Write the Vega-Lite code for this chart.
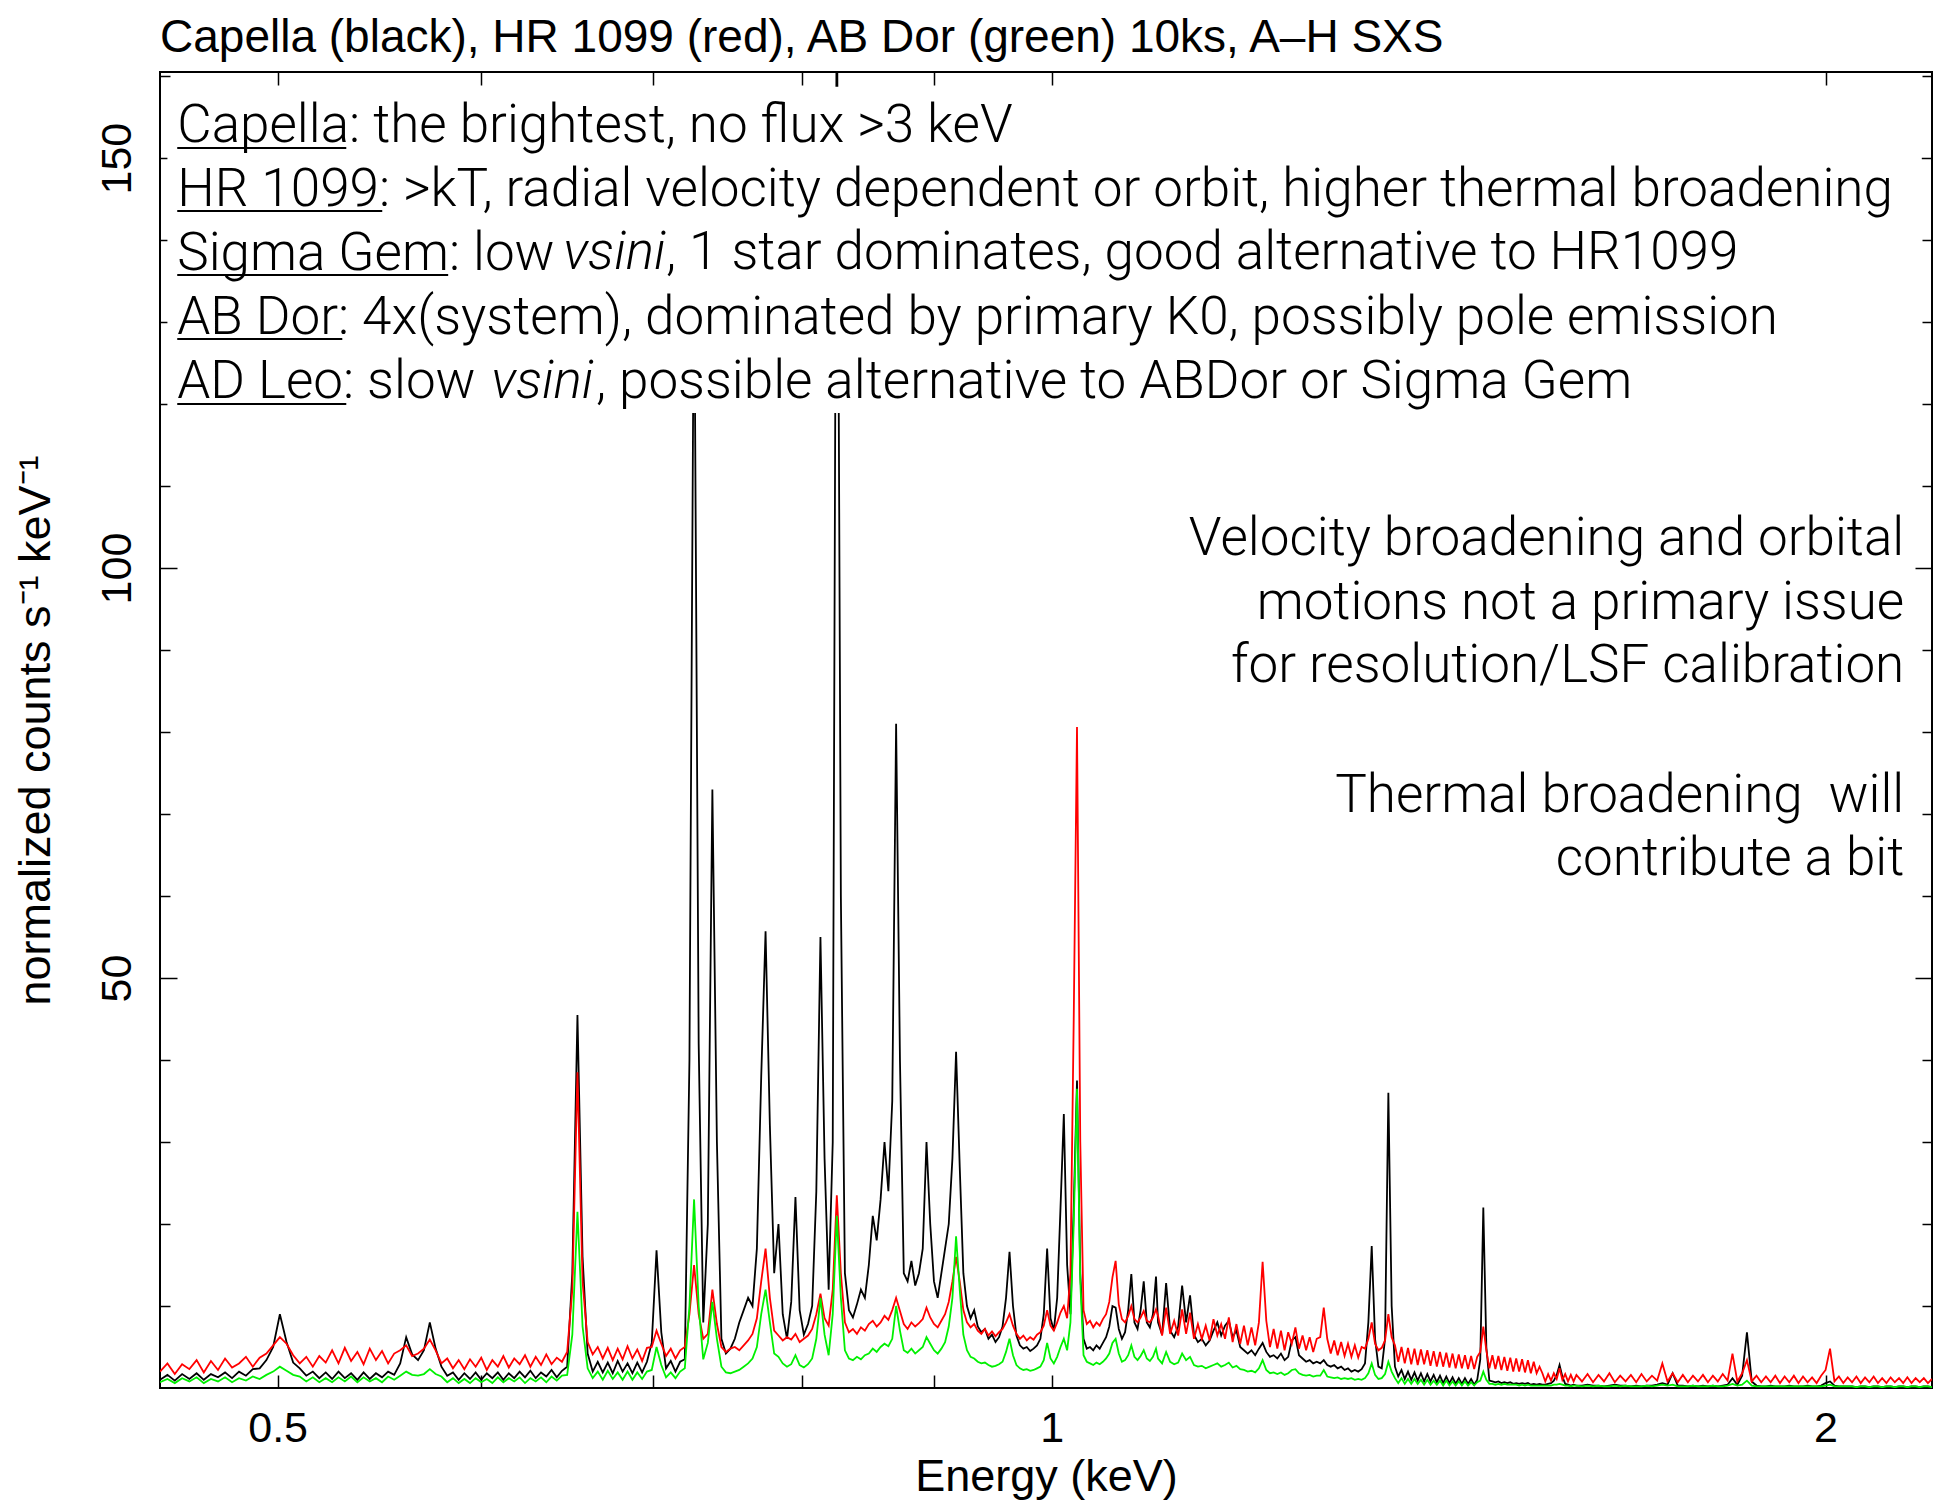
{
"$schema": "https://vega.github.io/schema/vega-lite/v6.json",
"width": 1772,
"height": 1316,
"autosize": {"type": "none"},
"padding": {"left": 160, "top": 72, "right": 3, "bottom": 112},
"background": "white",
"config": {
  "view": {"stroke": "#000", "strokeWidth": 2},
  "axis": {"domain": false, "grid": false, "zindex": 1, "tickColor": "#000", "tickWidth": 1.5, "labelColor": "#000", "labelFont": "Liberation Sans", "labelFontSize": 43, "titleColor": "#000", "titleFont": "Liberation Sans", "titleFontSize": 45, "titleFontWeight": "normal", "labelOverlap": false, "labelFlush": false}
},
"title": {"text": "Capella (black), HR 1099 (red), AB Dor (green) 10ks, A–H SXS", "anchor": "start", "frame": "group", "font": "Liberation Sans", "fontSize": 46, "fontWeight": "normal", "color": "#000", "baseline": "alphabetic", "offset": -27},
"data": {"values": [
{"keV":0.450,"cap":1.0,"hr":2.0,"ab":0.7},{"keV":0.453,"cap":1.6,"hr":3.0,"ab":1.1},{"keV":0.456,"cap":0.9,"hr":1.7,"ab":0.6},{"keV":0.459,"cap":1.7,"hr":2.9,"ab":1.2},
{"keV":0.462,"cap":1.1,"hr":2.3,"ab":0.8},{"keV":0.465,"cap":1.8,"hr":3.4,"ab":1.3},{"keV":0.468,"cap":1.0,"hr":1.9,"ab":0.6},{"keV":0.471,"cap":1.7,"hr":3.3,"ab":1.1},
{"keV":0.474,"cap":1.3,"hr":2.2,"ab":0.8},{"keV":0.477,"cap":1.9,"hr":3.6,"ab":1.3},{"keV":0.480,"cap":1.2,"hr":2.5,"ab":0.7},{"keV":0.483,"cap":2.0,"hr":3.0,"ab":1.2},
{"keV":0.486,"cap":1.5,"hr":3.8,"ab":0.9},{"keV":0.489,"cap":2.3,"hr":2.6,"ab":1.4},{"keV":0.492,"cap":2.4,"hr":3.7,"ab":1.1},{"keV":0.495,"cap":3.4,"hr":4.2,"ab":1.6},
{"keV":0.498,"cap":5.0,"hr":5.2,"ab":2.0},{"keV":0.501,"cap":9.0,"hr":6.2,"ab":2.6},{"keV":0.504,"cap":5.6,"hr":5.4,"ab":2.1},{"keV":0.507,"cap":3.1,"hr":4.0,"ab":1.6},
{"keV":0.510,"cap":2.4,"hr":3.0,"ab":1.4},{"keV":0.513,"cap":1.5,"hr":3.8,"ab":0.8},{"keV":0.516,"cap":2.0,"hr":2.6,"ab":1.3},{"keV":0.519,"cap":1.2,"hr":3.9,"ab":0.7},
{"keV":0.522,"cap":1.9,"hr":3.1,"ab":1.2},{"keV":0.525,"cap":1.1,"hr":4.6,"ab":0.7},{"keV":0.528,"cap":2.0,"hr":3.0,"ab":1.3},{"keV":0.531,"cap":1.2,"hr":4.9,"ab":0.8},
{"keV":0.534,"cap":1.8,"hr":3.3,"ab":1.4},{"keV":0.537,"cap":1.0,"hr":4.4,"ab":0.7},{"keV":0.540,"cap":1.9,"hr":2.9,"ab":1.3},{"keV":0.543,"cap":1.1,"hr":4.8,"ab":0.8},
{"keV":0.546,"cap":1.8,"hr":3.4,"ab":1.2},{"keV":0.549,"cap":1.3,"hr":4.5,"ab":0.7},{"keV":0.552,"cap":2.0,"hr":3.0,"ab":1.4},{"keV":0.555,"cap":1.6,"hr":4.2,"ab":1.0},
{"keV":0.558,"cap":3.0,"hr":4.6,"ab":1.5},{"keV":0.561,"cap":6.2,"hr":5.2,"ab":2.0},{"keV":0.564,"cap":4.1,"hr":3.9,"ab":1.6},{"keV":0.567,"cap":3.4,"hr":4.2,"ab":1.5},
{"keV":0.570,"cap":4.6,"hr":4.8,"ab":1.7},{"keV":0.573,"cap":8.0,"hr":5.9,"ab":2.3},{"keV":0.576,"cap":4.8,"hr":4.6,"ab":1.7},{"keV":0.579,"cap":2.6,"hr":3.0,"ab":1.4},
{"keV":0.582,"cap":1.5,"hr":3.6,"ab":0.7},{"keV":0.585,"cap":1.9,"hr":2.4,"ab":1.2},{"keV":0.588,"cap":1.0,"hr":3.4,"ab":0.6},{"keV":0.591,"cap":1.8,"hr":2.3,"ab":1.1},
{"keV":0.594,"cap":1.1,"hr":3.5,"ab":0.6},{"keV":0.597,"cap":1.9,"hr":2.6,"ab":1.2},{"keV":0.600,"cap":1.0,"hr":3.7,"ab":0.7},{"keV":0.603,"cap":1.8,"hr":2.2,"ab":1.1},
{"keV":0.606,"cap":1.2,"hr":3.4,"ab":0.6},{"keV":0.609,"cap":1.9,"hr":2.6,"ab":1.3},{"keV":0.612,"cap":1.0,"hr":3.9,"ab":0.7},{"keV":0.615,"cap":1.8,"hr":2.5,"ab":1.2},
{"keV":0.618,"cap":1.2,"hr":3.6,"ab":0.8},{"keV":0.621,"cap":2.0,"hr":2.9,"ab":1.3},{"keV":0.624,"cap":1.3,"hr":4.0,"ab":0.6},{"keV":0.627,"cap":2.1,"hr":2.6,"ab":1.2},
{"keV":0.630,"cap":1.2,"hr":3.8,"ab":0.8},{"keV":0.633,"cap":1.9,"hr":2.8,"ab":1.3},{"keV":0.636,"cap":1.4,"hr":4.1,"ab":0.7},{"keV":0.639,"cap":2.2,"hr":2.9,"ab":1.4},
{"keV":0.642,"cap":1.3,"hr":3.7,"ab":0.9},{"keV":0.645,"cap":2.1,"hr":3.2,"ab":1.5},{"keV":0.648,"cap":2.6,"hr":4.4,"ab":1.6},{"keV":0.651,"cap":14,"hr":12,"ab":6.5},
{"keV":0.654,"cap":45.5,"hr":38.5,"ab":21.5},{"keV":0.657,"cap":16,"hr":13,"ab":7.5},{"keV":0.660,"cap":4.2,"hr":5.6,"ab":2.4},{"keV":0.663,"cap":2.0,"hr":4.1,"ab":1.2},
{"keV":0.666,"cap":3.2,"hr":5.0,"ab":2.0},{"keV":0.669,"cap":1.9,"hr":3.6,"ab":1.0},{"keV":0.672,"cap":3.1,"hr":4.9,"ab":2.1},{"keV":0.675,"cap":1.8,"hr":3.4,"ab":1.1},
{"keV":0.678,"cap":3.3,"hr":4.8,"ab":1.9},{"keV":0.681,"cap":2.0,"hr":3.5,"ab":1.0},{"keV":0.684,"cap":3.0,"hr":5.1,"ab":2.0},{"keV":0.687,"cap":1.8,"hr":3.6,"ab":1.0},
{"keV":0.690,"cap":3.1,"hr":4.7,"ab":1.9},{"keV":0.693,"cap":1.9,"hr":3.3,"ab":1.1},{"keV":0.696,"cap":3.2,"hr":4.9,"ab":2.0},{"keV":0.699,"cap":5.5,"hr":5.0,"ab":2.2},
{"keV":0.702,"cap":16.8,"hr":7.0,"ab":5.0},{"keV":0.705,"cap":6.8,"hr":5.4,"ab":2.8},{"keV":0.708,"cap":2.4,"hr":3.9,"ab":1.3},{"keV":0.711,"cap":3.3,"hr":4.8,"ab":1.9},
{"keV":0.714,"cap":2.0,"hr":3.6,"ab":1.2},{"keV":0.717,"cap":3.2,"hr":4.6,"ab":2.0},{"keV":0.720,"cap":3.5,"hr":5.0,"ab":2.4},{"keV":0.723,"cap":40,"hr":9,"ab":10},
{"keV":0.726,"cap":140,"hr":15,"ab":23},{"keV":0.729,"cap":42,"hr":9,"ab":10},{"keV":0.732,"cap":8,"hr":6.0,"ab":3.5},{"keV":0.735,"cap":20,"hr":6.6,"ab":5.5},
{"keV":0.738,"cap":73,"hr":12,"ab":10.5},{"keV":0.741,"cap":30,"hr":7.8,"ab":6.0},{"keV":0.744,"cap":6.0,"hr":5.0,"ab":2.6},{"keV":0.747,"cap":4.2,"hr":4.4,"ab":1.9},
{"keV":0.750,"cap":4.8,"hr":4.8,"ab":1.8},{"keV":0.753,"cap":6.0,"hr":5.0,"ab":2.0},{"keV":0.756,"cap":8.0,"hr":4.6,"ab":2.2},{"keV":0.759,"cap":9.5,"hr":5.2,"ab":2.6},
{"keV":0.762,"cap":11.0,"hr":5.8,"ab":3.0},{"keV":0.765,"cap":10.0,"hr":6.6,"ab":3.6},{"keV":0.768,"cap":17,"hr":8.5,"ab":5.0},{"keV":0.771,"cap":38,"hr":13,"ab":9},
{"keV":0.774,"cap":55.7,"hr":17,"ab":12},{"keV":0.777,"cap":32,"hr":11,"ab":8},{"keV":0.780,"cap":14,"hr":7.0,"ab":4.2},{"keV":0.783,"cap":20,"hr":6.4,"ab":3.8},
{"keV":0.786,"cap":9.0,"hr":5.8,"ab":3.0},{"keV":0.789,"cap":6.0,"hr":6.2,"ab":2.6},{"keV":0.792,"cap":10.5,"hr":5.9,"ab":2.9},{"keV":0.795,"cap":23.3,"hr":6.6,"ab":4.0},
{"keV":0.798,"cap":9.5,"hr":5.6,"ab":2.8},{"keV":0.801,"cap":6.5,"hr":6.0,"ab":2.5},{"keV":0.804,"cap":7.8,"hr":6.4,"ab":2.9},{"keV":0.807,"cap":10,"hr":7.2,"ab":3.6},
{"keV":0.810,"cap":24,"hr":9,"ab":6.0},{"keV":0.813,"cap":55,"hr":11.5,"ab":11},{"keV":0.816,"cap":28,"hr":8.5,"ab":6.5},{"keV":0.819,"cap":12,"hr":7.6,"ab":4.0},
{"keV":0.822,"cap":30,"hr":12,"ab":9},{"keV":0.825,"cap":175,"hr":23.5,"ab":21},{"keV":0.828,"cap":60,"hr":14,"ab":11},{"keV":0.831,"cap":14,"hr":8.0,"ab":4.6},
{"keV":0.834,"cap":9.5,"hr":6.8,"ab":3.6},{"keV":0.837,"cap":8.6,"hr":7.2,"ab":3.4},{"keV":0.840,"cap":10.2,"hr":6.6,"ab":3.8},{"keV":0.843,"cap":12,"hr":7.4,"ab":3.5},
{"keV":0.846,"cap":11,"hr":7.0,"ab":4.0},{"keV":0.849,"cap":15,"hr":7.8,"ab":4.2},{"keV":0.852,"cap":21,"hr":8.2,"ab":4.8},{"keV":0.855,"cap":18,"hr":7.5,"ab":4.4},
{"keV":0.858,"cap":23,"hr":8.0,"ab":5.0},{"keV":0.861,"cap":30,"hr":8.8,"ab":5.4},{"keV":0.864,"cap":24,"hr":8.3,"ab":5.1},{"keV":0.867,"cap":35,"hr":9.5,"ab":6.0},
{"keV":0.870,"cap":81,"hr":11,"ab":10},{"keV":0.873,"cap":40,"hr":9.4,"ab":7.0},{"keV":0.876,"cap":14,"hr":7.8,"ab":4.6},{"keV":0.879,"cap":13,"hr":7.2,"ab":4.3},
{"keV":0.882,"cap":15.5,"hr":8.0,"ab":4.8},{"keV":0.885,"cap":12.5,"hr":7.5,"ab":4.2},{"keV":0.888,"cap":14,"hr":7.9,"ab":4.6},{"keV":0.891,"cap":17,"hr":8.4,"ab":5.0},
{"keV":0.894,"cap":30,"hr":9.8,"ab":6.2},{"keV":0.897,"cap":20,"hr":8.6,"ab":5.4},{"keV":0.900,"cap":13,"hr":7.8,"ab":4.6},{"keV":0.903,"cap":11,"hr":7.4,"ab":4.2},
{"keV":0.906,"cap":14,"hr":8.2,"ab":4.8},{"keV":0.909,"cap":17,"hr":9.0,"ab":5.6},{"keV":0.912,"cap":20,"hr":10.5,"ab":7.5},{"keV":0.915,"cap":28,"hr":13,"ab":11},
{"keV":0.918,"cap":41,"hr":16,"ab":18.5},{"keV":0.921,"cap":27,"hr":13,"ab":12},{"keV":0.924,"cap":14,"hr":9.5,"ab":6.5},{"keV":0.927,"cap":10,"hr":8.0,"ab":4.6},
{"keV":0.930,"cap":8.5,"hr":7.4,"ab":3.8},{"keV":0.933,"cap":9.5,"hr":7.8,"ab":3.6},{"keV":0.936,"cap":7.5,"hr":7.0,"ab":3.2},{"keV":0.939,"cap":6.8,"hr":6.6,"ab":3.0},
{"keV":0.942,"cap":7.2,"hr":7.2,"ab":3.1},{"keV":0.945,"cap":6.0,"hr":6.4,"ab":2.8},{"keV":0.948,"cap":6.5,"hr":6.9,"ab":2.6},{"keV":0.951,"cap":5.6,"hr":6.3,"ab":2.7},
{"keV":0.954,"cap":6.2,"hr":6.8,"ab":2.9},{"keV":0.957,"cap":7.5,"hr":7.2,"ab":3.2},{"keV":0.960,"cap":11,"hr":8.0,"ab":4.4},{"keV":0.963,"cap":16.6,"hr":9.0,"ab":6.0},
{"keV":0.966,"cap":10,"hr":7.6,"ab":4.0},{"keV":0.969,"cap":6.4,"hr":6.6,"ab":2.8},{"keV":0.972,"cap":5.2,"hr":6.0,"ab":2.4},{"keV":0.975,"cap":4.8,"hr":6.4,"ab":2.2},
{"keV":0.978,"cap":5.0,"hr":5.8,"ab":2.3},{"keV":0.981,"cap":4.5,"hr":6.2,"ab":2.1},{"keV":0.984,"cap":4.8,"hr":5.9,"ab":2.2},{"keV":0.987,"cap":5.2,"hr":6.5,"ab":2.4},
{"keV":0.990,"cap":6.0,"hr":6.8,"ab":2.6},{"keV":0.993,"cap":9.0,"hr":7.6,"ab":3.4},{"keV":0.996,"cap":17,"hr":9.5,"ab":5.5},{"keV":0.999,"cap":8.5,"hr":7.6,"ab":3.6},
{"keV":1.002,"cap":7.0,"hr":7.0,"ab":3.0},{"keV":1.005,"cap":11,"hr":8.0,"ab":3.8},{"keV":1.008,"cap":22,"hr":9.2,"ab":5.0},{"keV":1.011,"cap":33.4,"hr":10.0,"ab":6.0},
{"keV":1.014,"cap":15,"hr":8.5,"ab":4.6},{"keV":1.017,"cap":9.0,"hr":14,"ab":8},{"keV":1.020,"cap":22,"hr":45,"ab":20},{"keV":1.023,"cap":37.5,"hr":80.6,"ab":36.5},
{"keV":1.026,"cap":14,"hr":30,"ab":13},{"keV":1.029,"cap":6.0,"hr":9.5,"ab":4.0},{"keV":1.032,"cap":4.8,"hr":7.8,"ab":3.2},{"keV":1.035,"cap":5.0,"hr":8.2,"ab":3.0},
{"keV":1.038,"cap":4.6,"hr":7.4,"ab":2.8},{"keV":1.041,"cap":5.2,"hr":8.0,"ab":3.1},{"keV":1.044,"cap":4.8,"hr":7.6,"ab":2.9},{"keV":1.047,"cap":5.5,"hr":8.4,"ab":3.2},
{"keV":1.050,"cap":6.2,"hr":9.0,"ab":3.6},{"keV":1.053,"cap":7.5,"hr":10.5,"ab":4.2},{"keV":1.056,"cap":10,"hr":13.5,"ab":5.5},{"keV":1.059,"cap":9.8,"hr":15.5,"ab":6.0},
{"keV":1.062,"cap":7.2,"hr":10.2,"ab":4.2},{"keV":1.065,"cap":6.0,"hr":8.4,"ab":3.2},{"keV":1.068,"cap":6.8,"hr":8.0,"ab":3.4},{"keV":1.071,"cap":9.5,"hr":8.8,"ab":4.0},
{"keV":1.074,"cap":13.9,"hr":10.0,"ab":5.2},{"keV":1.077,"cap":8.0,"hr":8.4,"ab":3.8},{"keV":1.080,"cap":7.2,"hr":8.0,"ab":3.4},{"keV":1.083,"cap":9.5,"hr":8.6,"ab":3.9},
{"keV":1.086,"cap":13.0,"hr":9.4,"ab":4.6},{"keV":1.089,"cap":8.0,"hr":8.2,"ab":3.6},{"keV":1.092,"cap":7.4,"hr":8.0,"ab":3.3},{"keV":1.095,"cap":9.0,"hr":8.6,"ab":3.8},
{"keV":1.098,"cap":13.6,"hr":9.6,"ab":4.8},
{"keV":1.100,"cap":8.0,"hr":8.8,"ab":3.6},{"keV":1.104,"cap":6.5,"hr":6.4,"ab":3.0},{"keV":1.108,"cap":12.8,"hr":9.8,"ab":4.4},{"keV":1.112,"cap":7.0,"hr":6.6,"ab":3.2},
{"keV":1.116,"cap":6.2,"hr":8.2,"ab":2.9},{"keV":1.120,"cap":7.5,"hr":6.4,"ab":3.1},{"keV":1.124,"cap":12.5,"hr":9.6,"ab":4.2},{"keV":1.128,"cap":8.0,"hr":6.6,"ab":3.4},
{"keV":1.132,"cap":11.3,"hr":9.2,"ab":3.8},{"keV":1.136,"cap":6.5,"hr":6.0,"ab":2.8},{"keV":1.140,"cap":5.6,"hr":7.8,"ab":2.6},{"keV":1.144,"cap":6.0,"hr":6.0,"ab":2.7},
{"keV":1.148,"cap":5.2,"hr":7.6,"ab":2.4},{"keV":1.152,"cap":5.8,"hr":5.8,"ab":2.6},{"keV":1.156,"cap":7.0,"hr":8.4,"ab":2.8},{"keV":1.160,"cap":8.0,"hr":6.4,"ab":3.0},
{"keV":1.164,"cap":6.4,"hr":7.8,"ab":2.6},{"keV":1.168,"cap":7.6,"hr":6.0,"ab":2.8},{"keV":1.172,"cap":8.2,"hr":8.6,"ab":3.1},{"keV":1.176,"cap":6.2,"hr":5.6,"ab":2.5},
{"keV":1.180,"cap":7.0,"hr":7.8,"ab":2.7},{"keV":1.184,"cap":5.0,"hr":5.4,"ab":2.3},{"keV":1.188,"cap":4.6,"hr":7.6,"ab":2.2},{"keV":1.192,"cap":4.2,"hr":5.2,"ab":2.0},
{"keV":1.196,"cap":4.6,"hr":7.4,"ab":2.1},{"keV":1.200,"cap":4.0,"hr":5.2,"ab":1.9},{"keV":1.204,"cap":4.8,"hr":8.0,"ab":2.4},{"keV":1.208,"cap":5.5,"hr":15.4,"ab":3.4},
{"keV":1.212,"cap":4.4,"hr":8.2,"ab":2.2},{"keV":1.216,"cap":3.8,"hr":5.0,"ab":1.8},{"keV":1.220,"cap":4.0,"hr":7.2,"ab":1.9},{"keV":1.224,"cap":3.6,"hr":4.8,"ab":1.7},
{"keV":1.228,"cap":4.2,"hr":7.0,"ab":1.9},{"keV":1.232,"cap":3.4,"hr":4.6,"ab":1.6},{"keV":1.236,"cap":3.8,"hr":6.8,"ab":1.8},{"keV":1.240,"cap":5.8,"hr":5.4,"ab":2.2},
{"keV":1.244,"cap":6.2,"hr":7.4,"ab":2.3},{"keV":1.248,"cap":4.0,"hr":4.8,"ab":1.8},{"keV":1.252,"cap":3.6,"hr":6.4,"ab":1.6},{"keV":1.256,"cap":3.2,"hr":4.6,"ab":1.5},
{"keV":1.260,"cap":3.4,"hr":6.2,"ab":1.6},{"keV":1.264,"cap":3.0,"hr":4.4,"ab":1.4},{"keV":1.268,"cap":3.2,"hr":6.0,"ab":1.5},{"keV":1.272,"cap":3.0,"hr":6.2,"ab":1.5},
{"keV":1.276,"cap":3.4,"hr":9.8,"ab":2.2},{"keV":1.280,"cap":2.8,"hr":6.0,"ab":1.4},{"keV":1.284,"cap":2.6,"hr":4.2,"ab":1.3},{"keV":1.288,"cap":2.8,"hr":5.8,"ab":1.2},
{"keV":1.292,"cap":2.4,"hr":4.0,"ab":1.3},{"keV":1.296,"cap":2.6,"hr":5.6,"ab":1.1},{"keV":1.300,"cap":2.2,"hr":3.9,"ab":1.2},{"keV":1.304,"cap":2.4,"hr":5.4,"ab":1.1},
{"keV":1.308,"cap":2.0,"hr":3.8,"ab":1.2},{"keV":1.312,"cap":2.2,"hr":5.2,"ab":1.0},{"keV":1.316,"cap":2.0,"hr":3.7,"ab":1.1},{"keV":1.320,"cap":2.3,"hr":5.0,"ab":1.0},
{"keV":1.324,"cap":3.0,"hr":4.8,"ab":1.2},{"keV":1.328,"cap":8.0,"hr":6.0,"ab":1.8},{"keV":1.332,"cap":17.3,"hr":8.0,"ab":3.0},{"keV":1.336,"cap":6.0,"hr":5.4,"ab":1.6},
{"keV":1.340,"cap":2.6,"hr":4.6,"ab":1.1},{"keV":1.344,"cap":2.4,"hr":4.9,"ab":1.2},{"keV":1.348,"cap":6.0,"hr":5.8,"ab":1.7},{"keV":1.352,"cap":36.0,"hr":9.0,"ab":3.2},
{"keV":1.356,"cap":10.0,"hr":6.2,"ab":2.0},{"keV":1.360,"cap":2.6,"hr":5.2,"ab":1.2},{"keV":1.364,"cap":1.4,"hr":3.2,"ab":0.6},{"keV":1.368,"cap":2.2,"hr":5.0,"ab":1.2},
{"keV":1.372,"cap":1.1,"hr":3.0,"ab":0.5},{"keV":1.376,"cap":2.0,"hr":4.9,"ab":1.1},{"keV":1.380,"cap":1.0,"hr":2.9,"ab":0.5},{"keV":1.384,"cap":1.9,"hr":4.8,"ab":1.1},
{"keV":1.388,"cap":0.9,"hr":2.8,"ab":0.5},{"keV":1.392,"cap":1.8,"hr":4.7,"ab":1.0},{"keV":1.396,"cap":0.8,"hr":2.9,"ab":0.4},{"keV":1.400,"cap":1.7,"hr":4.6,"ab":1.0},
{"keV":1.404,"cap":0.8,"hr":2.7,"ab":0.4},{"keV":1.408,"cap":1.6,"hr":4.5,"ab":0.9},{"keV":1.412,"cap":0.7,"hr":2.6,"ab":0.4},{"keV":1.416,"cap":1.5,"hr":4.4,"ab":0.9},
{"keV":1.420,"cap":0.6,"hr":2.6,"ab":0.3},{"keV":1.424,"cap":1.4,"hr":4.3,"ab":0.9},{"keV":1.428,"cap":0.6,"hr":2.5,"ab":0.3},{"keV":1.432,"cap":1.3,"hr":4.2,"ab":0.8},
{"keV":1.436,"cap":0.5,"hr":2.4,"ab":0.3},{"keV":1.440,"cap":1.2,"hr":4.1,"ab":0.8},{"keV":1.444,"cap":0.5,"hr":2.4,"ab":0.3},{"keV":1.448,"cap":1.2,"hr":4.0,"ab":0.8},
{"keV":1.452,"cap":0.5,"hr":2.3,"ab":0.3},{"keV":1.456,"cap":1.1,"hr":3.9,"ab":0.7},{"keV":1.460,"cap":0.4,"hr":2.3,"ab":0.3},{"keV":1.464,"cap":1.0,"hr":3.8,"ab":0.7},
{"keV":1.468,"cap":3.5,"hr":4.4,"ab":0.9},{"keV":1.472,"cap":22.0,"hr":7.5,"ab":2.0},{"keV":1.476,"cap":5.0,"hr":4.6,"ab":1.0},{"keV":1.480,"cap":0.9,"hr":2.4,"ab":0.5},
{"keV":1.484,"cap":0.8,"hr":4.0,"ab":0.5},{"keV":1.488,"cap":0.7,"hr":2.3,"ab":0.4},{"keV":1.492,"cap":0.8,"hr":3.9,"ab":0.5},{"keV":1.496,"cap":0.6,"hr":2.2,"ab":0.4},
{"keV":1.500,"cap":0.7,"hr":3.8,"ab":0.5},{"keV":1.504,"cap":0.6,"hr":2.1,"ab":0.4},{"keV":1.508,"cap":0.7,"hr":3.7,"ab":0.4},{"keV":1.512,"cap":0.5,"hr":2.0,"ab":0.4},
{"keV":1.516,"cap":0.6,"hr":3.6,"ab":0.4},{"keV":1.520,"cap":0.5,"hr":2.0,"ab":0.3},{"keV":1.524,"cap":0.6,"hr":3.5,"ab":0.4},{"keV":1.528,"cap":0.5,"hr":1.9,"ab":0.3},
{"keV":1.532,"cap":0.6,"hr":3.4,"ab":0.4},{"keV":1.536,"cap":0.4,"hr":1.8,"ab":0.3},{"keV":1.540,"cap":0.5,"hr":3.2,"ab":0.3},{"keV":1.544,"cap":0.4,"hr":1.8,"ab":0.3},
{"keV":1.548,"cap":0.5,"hr":2.6,"ab":0.3},{"keV":1.552,"cap":0.4,"hr":1.8,"ab":0.3},{"keV":1.556,"cap":0.4,"hr":0.8,"ab":0.3},{"keV":1.560,"cap":0.5,"hr":1.7,"ab":0.3},
{"keV":1.564,"cap":0.6,"hr":0.9,"ab":0.3},{"keV":1.568,"cap":0.9,"hr":1.8,"ab":0.4},{"keV":1.572,"cap":1.6,"hr":1.1,"ab":0.4},{"keV":1.576,"cap":2.8,"hr":2.4,"ab":0.5},
{"keV":1.580,"cap":1.4,"hr":1.0,"ab":0.4},{"keV":1.584,"cap":0.5,"hr":1.7,"ab":0.3},{"keV":1.588,"cap":0.4,"hr":0.8,"ab":0.3},{"keV":1.592,"cap":0.3,"hr":1.6,"ab":0.2},
{"keV":1.596,"cap":0.4,"hr":0.8,"ab":0.3},
{"keV":1.600,"cap":0.3,"hr":1.6,"ab":0.3},{"keV":1.608,"cap":0.3,"hr":0.8,"ab":0.2},{"keV":1.616,"cap":0.4,"hr":1.7,"ab":0.3},{"keV":1.624,"cap":0.3,"hr":0.7,"ab":0.2},
{"keV":1.632,"cap":0.3,"hr":1.6,"ab":0.3},{"keV":1.640,"cap":0.2,"hr":0.8,"ab":0.2},{"keV":1.648,"cap":0.3,"hr":1.8,"ab":0.2},{"keV":1.656,"cap":0.4,"hr":0.7,"ab":0.3},
{"keV":1.664,"cap":0.3,"hr":1.5,"ab":0.2},{"keV":1.672,"cap":0.3,"hr":0.8,"ab":0.3},{"keV":1.680,"cap":0.2,"hr":1.6,"ab":0.2},{"keV":1.688,"cap":0.3,"hr":0.7,"ab":0.2},
{"keV":1.696,"cap":0.2,"hr":1.7,"ab":0.2},{"keV":1.704,"cap":0.3,"hr":0.8,"ab":0.3},{"keV":1.712,"cap":0.3,"hr":1.5,"ab":0.2},{"keV":1.720,"cap":0.4,"hr":0.9,"ab":0.3},
{"keV":1.728,"cap":0.6,"hr":3.0,"ab":0.4},{"keV":1.736,"cap":0.4,"hr":0.8,"ab":0.3},{"keV":1.744,"cap":1.8,"hr":1.8,"ab":0.4},{"keV":1.752,"cap":0.3,"hr":0.7,"ab":0.2},
{"keV":1.760,"cap":0.3,"hr":1.6,"ab":0.2},{"keV":1.768,"cap":0.2,"hr":0.7,"ab":0.2},{"keV":1.776,"cap":0.3,"hr":1.5,"ab":0.3},{"keV":1.784,"cap":0.2,"hr":0.8,"ab":0.2},
{"keV":1.792,"cap":0.3,"hr":1.6,"ab":0.2},{"keV":1.800,"cap":0.2,"hr":0.7,"ab":0.2},{"keV":1.808,"cap":0.3,"hr":1.5,"ab":0.3},{"keV":1.816,"cap":0.2,"hr":0.8,"ab":0.2},
{"keV":1.824,"cap":0.3,"hr":1.7,"ab":0.2},{"keV":1.832,"cap":0.4,"hr":0.9,"ab":0.3},{"keV":1.840,"cap":1.2,"hr":4.2,"ab":0.5},{"keV":1.848,"cap":0.4,"hr":0.8,"ab":0.3},
{"keV":1.856,"cap":1.5,"hr":1.8,"ab":0.4},{"keV":1.864,"cap":6.8,"hr":3.4,"ab":0.9},{"keV":1.872,"cap":0.8,"hr":0.8,"ab":0.3},{"keV":1.880,"cap":0.3,"hr":1.5,"ab":0.2},
{"keV":1.888,"cap":0.2,"hr":0.7,"ab":0.2},{"keV":1.896,"cap":0.2,"hr":1.4,"ab":0.2},{"keV":1.904,"cap":0.3,"hr":0.7,"ab":0.2},{"keV":1.912,"cap":0.2,"hr":1.5,"ab":0.2},
{"keV":1.920,"cap":0.2,"hr":0.6,"ab":0.2},{"keV":1.928,"cap":0.2,"hr":1.4,"ab":0.2},{"keV":1.936,"cap":0.3,"hr":0.7,"ab":0.2},{"keV":1.944,"cap":0.2,"hr":1.5,"ab":0.2},
{"keV":1.952,"cap":0.2,"hr":0.6,"ab":0.2},{"keV":1.960,"cap":0.2,"hr":1.4,"ab":0.2},{"keV":1.968,"cap":0.3,"hr":0.7,"ab":0.2},{"keV":1.976,"cap":0.2,"hr":1.3,"ab":0.2},
{"keV":1.984,"cap":0.2,"hr":0.6,"ab":0.2},{"keV":1.992,"cap":0.3,"hr":1.5,"ab":0.2},{"keV":2.000,"cap":0.6,"hr":2.2,"ab":0.3},{"keV":2.008,"cap":0.8,"hr":4.8,"ab":0.4},
{"keV":2.016,"cap":0.3,"hr":0.8,"ab":0.2},{"keV":2.024,"cap":0.2,"hr":1.4,"ab":0.2},{"keV":2.032,"cap":0.2,"hr":0.6,"ab":0.2},{"keV":2.040,"cap":0.2,"hr":1.3,"ab":0.2},
{"keV":2.048,"cap":0.2,"hr":0.7,"ab":0.2},{"keV":2.056,"cap":0.1,"hr":1.4,"ab":0.1},{"keV":2.064,"cap":0.2,"hr":0.6,"ab":0.2},{"keV":2.072,"cap":0.2,"hr":1.3,"ab":0.2},
{"keV":2.080,"cap":0.1,"hr":0.7,"ab":0.1},{"keV":2.088,"cap":0.2,"hr":1.4,"ab":0.2},{"keV":2.096,"cap":0.2,"hr":0.6,"ab":0.2},{"keV":2.104,"cap":0.1,"hr":1.2,"ab":0.1},
{"keV":2.112,"cap":0.2,"hr":0.6,"ab":0.2},{"keV":2.120,"cap":0.2,"hr":1.3,"ab":0.2},{"keV":2.128,"cap":0.1,"hr":0.7,"ab":0.1},{"keV":2.136,"cap":0.2,"hr":1.2,"ab":0.2},
{"keV":2.144,"cap":0.2,"hr":0.6,"ab":0.2},{"keV":2.152,"cap":0.1,"hr":1.3,"ab":0.1},{"keV":2.160,"cap":0.2,"hr":0.6,"ab":0.2},{"keV":2.168,"cap":0.2,"hr":1.2,"ab":0.2},
{"keV":2.176,"cap":0.1,"hr":0.7,"ab":0.1},{"keV":2.184,"cap":0.2,"hr":1.2,"ab":0.2},{"keV":2.192,"cap":0.2,"hr":0.6,"ab":0.2},{"keV":2.200,"cap":0.1,"hr":1.1,"ab":0.1}
]},
"layer": [
  {"mark": {"type": "line", "color": "#000000", "strokeWidth": 1.8, "clip": true},
   "encoding": {
     "x": {"field": "keV", "type": "quantitative", "scale": {"type": "log", "domain": [0.45, 2.2], "nice": false},
           "axis": {"orient": "bottom", "values": [0.5, 0.6, 0.7, 0.8, 0.9, 1, 2], "format": "~g", "tickSize": -13, "labelPadding": 32, "labelExpr": "datum.value == 0.5 || datum.value == 1 || datum.value == 2 ? datum.label : ''", "title": "Energy (keV)", "titleBaseline": "alphabetic", "titlePadding": 40}},
     "y": {"field": "cap", "type": "quantitative", "scale": {"domain": [0, 160.5], "nice": false, "zero": false},
           "axis": {"orient": "left", "values": [50, 100, 150], "tickSize": -17, "labelAngle": -90, "labelAlign": "center", "labelBaseline": "alphabetic", "labelPadding": 47, "title": "normalized counts s⁻¹ keV⁻¹", "titleBaseline": "alphabetic", "titlePadding": 47}}
   }},
  {"mark": {"type": "line", "color": "#ff0000", "strokeWidth": 1.8, "clip": true},
   "encoding": {
     "x": {"field": "keV", "type": "quantitative", "axis": {"orient": "top", "values": [0.5, 0.6, 0.7, 0.8, 0.9, 1, 2], "tickSize": -13, "labels": false, "title": null}},
     "y": {"field": "hr", "type": "quantitative", "axis": {"orient": "left", "values": [10, 20, 30, 40, 60, 70, 80, 90, 110, 120, 130, 140, 160], "tickSize": -10, "labels": false, "title": null}}
   }},
  {"mark": {"type": "line", "color": "#00f000", "strokeWidth": 1.8, "clip": true},
   "encoding": {
     "x": {"field": "keV", "type": "quantitative", "axis": null},
     "y": {"field": "ab", "type": "quantitative", "axis": {"orient": "right", "values": [50, 100, 150], "tickSize": -17, "labels": false, "title": null}}
   }},
  {"data": {"values": [{"box": "annotation background"}]},
   "mark": {"type": "rect", "fill": "#ffffff"},
   "encoding": {
     "x": {"datum": 0.453, "axis": null}, "x2": {"datum": 2.18},
     "y": {"datum": 118.9, "axis": {"orient": "right", "values": [10, 20, 30, 40, 60, 70, 80, 90, 110, 120, 130, 140, 160], "tickSize": -10, "labels": false, "title": null}}, "y2": {"datum": 158.7}
   }},
  {"data": {"values": [{"note": ["Capella: the brightest, no flux >3 keV", "HR 1099: >kT, radial velocity dependent or orbit, higher thermal broadening", "Sigma Gem: low", "AB Dor: 4x(system), dominated by primary K0, possibly pole emission", "AD Leo: slow"]}]},
   "mark": {"type": "text", "font": "Roboto", "fontWeight": 300, "fontSize": 53, "align": "left", "baseline": "alphabetic", "lineHeight": 64, "color": "#000"},
   "encoding": {"x": {"datum": 0.457, "axis": null}, "y": {"datum": 151.96, "axis": null}, "text": {"field": "note"}}},
  {"data": {"values": [{"note": "vsini"}]},
   "mark": {"type": "text", "font": "Roboto", "fontWeight": 300, "fontStyle": "italic", "fontSize": 53, "align": "left", "baseline": "alphabetic", "color": "#000"},
   "encoding": {"x": {"datum": 0.6458, "axis": null}, "y": {"datum": 136.47, "axis": null}, "text": {"field": "note"}}},
  {"data": {"values": [{"note": ", 1 star dominates, good alternative to HR1099"}]},
   "mark": {"type": "text", "font": "Roboto", "fontWeight": 300, "fontSize": 53, "align": "left", "baseline": "alphabetic", "color": "#000"},
   "encoding": {"x": {"datum": 0.708, "axis": null}, "y": {"datum": 136.47, "axis": null}, "text": {"field": "note"}}},
  {"data": {"values": [{"note": "vsini"}]},
   "mark": {"type": "text", "font": "Roboto", "fontWeight": 300, "fontStyle": "italic", "fontSize": 53, "align": "left", "baseline": "alphabetic", "color": "#000"},
   "encoding": {"x": {"datum": 0.6054, "axis": null}, "y": {"datum": 120.74, "axis": null}, "text": {"field": "note"}}},
  {"data": {"values": [{"note": ", possible alternative to ABDor or Sigma Gem"}]},
   "mark": {"type": "text", "font": "Roboto", "fontWeight": 300, "fontSize": 53, "align": "left", "baseline": "alphabetic", "color": "#000"},
   "encoding": {"x": {"datum": 0.6649, "axis": null}, "y": {"datum": 120.74, "axis": null}, "text": {"field": "note"}}},
  {"data": {"values": [{"note": ["Velocity broadening and orbital", "motions not a primary issue", "for resolution/LSF calibration"]}]},
   "mark": {"type": "text", "font": "Roboto", "fontWeight": 300, "fontSize": 53, "align": "right", "baseline": "alphabetic", "lineHeight": 63.5, "color": "#000"},
   "encoding": {"x": {"datum": 2.146, "axis": null}, "y": {"datum": 101.59, "axis": null}, "text": {"field": "note"}}},
  {"data": {"values": [{"note": ["Thermal broadening\u00a0 will", "contribute a bit"]}]},
   "mark": {"type": "text", "font": "Roboto", "fontWeight": 300, "fontSize": 53, "align": "right", "baseline": "alphabetic", "lineHeight": 63, "color": "#000"},
   "encoding": {"x": {"datum": 2.146, "axis": null}, "y": {"datum": 70.24, "axis": null}, "text": {"field": "note"}}},
  {"data": {"values": [{"underline": "Capella"}]}, "mark": {"type": "rule", "color": "#000", "strokeWidth": 2},
   "encoding": {"x": {"datum": 0.457, "axis": null}, "x2": {"datum": 0.5317}, "y": {"datum": 151.23, "axis": null}}},
  {"data": {"values": [{"underline": "HR 1099"}]}, "mark": {"type": "rule", "color": "#000", "strokeWidth": 2},
   "encoding": {"x": {"datum": 0.457, "axis": null}, "x2": {"datum": 0.5491}, "y": {"datum": 143.54, "axis": null}}},
  {"data": {"values": [{"underline": "Sigma Gem"}]}, "mark": {"type": "rule", "color": "#000", "strokeWidth": 2},
   "encoding": {"x": {"datum": 0.457, "axis": null}, "x2": {"datum": 0.5825}, "y": {"datum": 135.74, "axis": null}}},
  {"data": {"values": [{"underline": "AB Dor"}]}, "mark": {"type": "rule", "color": "#000", "strokeWidth": 2},
   "encoding": {"x": {"datum": 0.457, "axis": null}, "x2": {"datum": 0.5298}, "y": {"datum": 127.93, "axis": null}}},
  {"data": {"values": [{"underline": "AD Leo"}]}, "mark": {"type": "rule", "color": "#000", "strokeWidth": 2},
   "encoding": {"x": {"datum": 0.457, "axis": null}, "x2": {"datum": 0.5317}, "y": {"datum": 120.01, "axis": null}}}
],
"resolve": {"axis": {"x": "independent", "y": "independent"}}
}
